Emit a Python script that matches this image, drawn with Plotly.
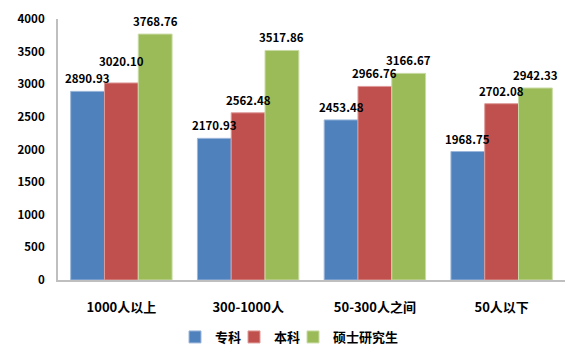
import plotly.graph_objects as go

categories = ["1000人以上", "300-1000人", "50-300人之间", "50人以下"]
zhuanke = [2890.93, 2170.93, 2453.48, 1968.75]
benke = [3020.10, 2562.48, 2966.76, 2702.08]
shuoshi = [3768.76, 3517.86, 3166.67, 2942.33]
series_names = ["专科", "本科", "硕士研究生"]
y_ticks = [0, 500, 1000, 1500, 2000, 2500, 3000, 3500, 4000]

colors = ["#4F81BD", "#C0504D", "#9BBB59"]
borders = ["#9DB7DA", "#DE9A98", "#C9DBA5"]
legend_ids = ["legend", "legend2", "legend3"]
legend_x_px = [175, 234, 293]
font_family = "Noto Sans CJK SC, Noto Sans, sans-serif"
W, H = 587, 364
ML, MR, MT, MB = 58, 22, 19, 84
PW, PH = W - ML - MR, H - MT - MB
Y_MAX = 4000
BARGAP = 0.2
all_series = [zhuanke, benke, shuoshi]
n_series = len(all_series)
bar_px = PW / len(categories) * (1 - BARGAP) / n_series
px_per_unit = PH / Y_MAX

fig = go.Figure()
annotations = []
# label shifts: avoid collisions with the neighbouring label on the left
shifts = [[3] * len(categories) for _ in range(n_series)]
for j in range(len(categories)):
    for i in range(1, n_series):
        diff = (all_series[i][j] - all_series[i - 1][j]) * px_per_unit + shifts[i][j] - shifts[i - 1][j]
        if abs(diff) < 12:
            shifts[i][j] += 17 - diff

for i, (name, vals, c, b, lid) in enumerate(zip(series_names, all_series, colors, borders, legend_ids)):
    fig.add_trace(go.Bar(
        x=categories, y=vals, name=name, legend=lid,
        marker=dict(color=c, line=dict(color=b, width=1)),
        hoverinfo="x+y+name",
    ))
    for j, (cat, v) in enumerate(zip(categories, vals)):
        annotations.append(dict(
            x=cat, y=v, xref="x", yref="y", text=f"{v:.2f}", showarrow=False,
            xanchor="center", yanchor="bottom", xshift=(i - 1) * bar_px, yshift=shifts[i][j],
            font=dict(family=font_family, size=11.5, color="black", weight="bold"),
        ))

layout_legends = {}
for lid, px in zip(legend_ids, legend_x_px):
    layout_legends[lid] = dict(xanchor="left", yanchor="middle",
                               x=(px - ML) / PW, y=-(337 - (MT + PH)) / PH,
                               font=dict(size=13, weight="bold"), itemwidth=30,
                               bgcolor="rgba(0,0,0,0)")

fig.update_layout(
    width=W, height=H,
    margin=dict(l=ML, r=MR, t=MT, b=MB, autoexpand=False),
    barmode="group", bargap=BARGAP, bargroupgap=0,
    plot_bgcolor="white", paper_bgcolor="white",
    font=dict(family=font_family, size=12, color="black", weight="bold"),
    showlegend=True,
    annotations=annotations,
    **layout_legends,
)
fig.update_xaxes(showline=True, linecolor="#BFBFBF", linewidth=2, ticks="",
                 tickfont=dict(size=13, weight="bold"), ticklabelstandoff=14,
                 automargin=False)
fig.update_yaxes(range=[0, Y_MAX], tickvals=y_ticks, showgrid=False, zeroline=False,
                 showline=True, linecolor="#BFBFBF", linewidth=2, ticks="",
                 tickfont=dict(size=11.5, weight="bold"), ticklabelstandoff=9,
                 automargin=False)

fig.write_html("out.html", config={"displayModeBar": False},
               post_script="document.body.style.margin='0';")
